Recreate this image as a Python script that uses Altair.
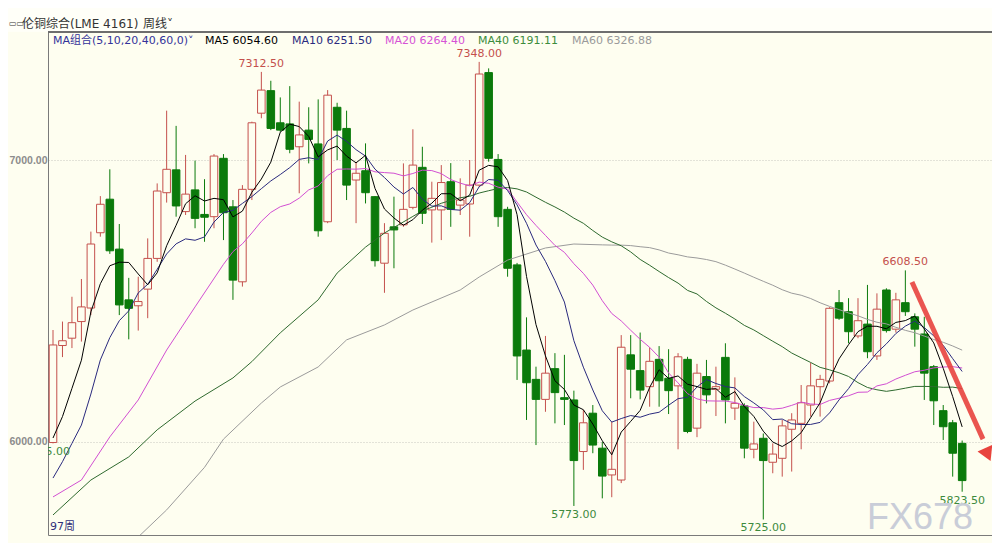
import altair as alt
import pandas as pd

# ---- weekly candles (LME copper) ----
opens = [5998, 6342, 6368, 6427, 6475, 6742, 6861, 6684, 6504, 6483,
         6542, 6651, 6884, 6965, 6817, 6894, 6807, 6799, 7006, 6834,
         6568, 6896, 7166, 7246, 7132, 7128, 7047, 7106, 7057, 6781,
         7187, 7112, 6929, 6962, 6870, 6634, 6763, 6770, 6832, 6974,
         6823, 6823, 6923, 6840, 6844, 6911, 7310, 7002, 6825, 6628,
         6326, 6222, 6151, 6260, 6157, 6149, 5966, 6102, 5978, 5883,
         5865, 6309, 6253, 6196, 6293, 6226, 6199, 6293, 6049, 6232,
         6187, 6300, 6120, 6128, 5974, 6013, 5928, 5942, 6045, 6066,
         6131, 6196, 6216, 6494, 6462, 6376, 6418, 6305, 6539, 6400,
         6494, 6444, 6383, 6267, 6111, 6068, 5995]
highs = [6397, 6427, 6515, 6578, 6746, 6872, 6967, 6773, 6582, 6586,
         6722, 6917, 7175, 7121, 7018, 6998, 6932, 7021, 7021, 6858,
         6911, 7136, 7312.5, 7281, 7222, 7262, 7207, 7187, 7215, 7248,
         7203, 7175, 6994, 7059, 6872, 6776, 6870, 6988, 7109, 7047,
         6923, 6982, 6989, 6935, 7000, 7348, 7325, 7021, 6834, 6635,
         6442, 6267, 6376, 6315, 6309, 6182, 6114, 6131, 6000, 6072,
         6379, 6379, 6388, 6336, 6340, 6329, 6315, 6302, 6277, 6291,
         6267, 6350, 6229, 6137, 6072, 6030, 5995, 6078, 6102, 6202,
         6281, 6238, 6478, 6539, 6510, 6510, 6557, 6527, 6545, 6529,
         6608.5, 6456, 6444, 6273, 6131, 6078, 6005]
lows = [5995, 6301, 6333, 6356, 6450, 6728, 6667, 6450, 6364, 6395,
        6439, 6639, 6849, 6799, 6805, 6758, 6710, 6758, 6716, 6504,
        6551, 6858, 7148, 7106, 7100, 7024, 6882, 6988, 6728, 6776,
        7000, 6858, 6776, 6846, 6622, 6529, 6616, 6763, 6825, 6773,
        6707, 6716, 6763, 6805, 6728, 6905, 6994, 6763, 6586, 6220,
        6078, 5989, 6107, 6066, 6060, 5773, 5901, 5960, 5800, 5804,
        5854, 6155, 6151, 6125, 6125, 6099, 5974, 6031, 6017, 6137,
        6092, 6066, 6078, 5942, 5942, 5725, 5889, 5877, 5895, 5974,
        6090, 6090, 6208, 6433, 6350, 6368, 6297, 6291, 6388, 6388,
        6447, 6338, 6149, 6060, 6007, 5877, 5823.5]
closes = [6344, 6359, 6423, 6479, 6702, 6843, 6678, 6486, 6474, 6498,
          6651, 6890, 6967, 6837, 6879, 6793, 6797, 7014, 6813, 6574,
          6896, 7132, 7248, 7112, 7106, 7038, 7089, 7073, 6749, 7230,
          7106, 6911, 6953, 6884, 6643, 6740, 6752, 6825, 6982, 6811,
          6864, 6920, 6825, 6858, 6911, 7305, 7006, 6799, 6616, 6305,
          6210, 6151, 6244, 6175, 6151, 5934, 6068, 5989, 5879, 5903,
          6336, 6258, 6184, 6286, 6217, 6182, 6302, 6037, 6244, 6167,
          6196, 6149, 6137, 5978, 5993, 5934, 5957, 6057, 6078, 6139,
          6199, 6222, 6474, 6439, 6391, 6430, 6320, 6471, 6395, 6504,
          6462, 6400, 6244, 6146, 6054, 5960, 5863]

# moving-average values at the left edge (their windows start before the first visible week)
ma5_early_i = [1, 2, 3, 4]
ma5_early_v = [6014, 6090, 6190, 6290]
ma10_early_i = [1, 2, 3, 4, 5, 6, 7, 8, 9]
ma10_early_v = [5872, 5930, 5995, 6060, 6170, 6291, 6370, 6430, 6465]
ma20_early_i = [1, 4, 7, 10, 13, 16, 19]
ma20_early_v = [5805, 5865, 6018, 6149, 6326, 6479, 6630]
ma40_early_i = [1, 5, 9, 12, 16, 20, 22, 25, 29, 31, 34, 36, 39]
ma40_early_v = [5741, 5865, 5947, 6043, 6145, 6227, 6285, 6387, 6504, 6599, 6691, 6741, 6800]
ma60_early_i = [1, 5, 10, 13, 17, 19, 23, 25, 29, 32, 36, 39, 44, 46, 49, 53, 56, 59]
ma60_early_v = [5340, 5520, 5663, 5759, 5910, 6010, 6138, 6195, 6266, 6362, 6415, 6468,
                6539, 6585, 6645, 6688, 6702, 6699]

ma_names = ["MA60", "MA40", "MA20", "MA10", "MA5"]
ma_colors = ["#9b9b9b", "#2f6a2f", "#d24fd2", "#2a2a7e", "#000000"]

hilo_text = ["7312.50", "7348.00", "6608.50"]
hilo_i = [23, 46, 91]
hilo_v = [7312.5, 7348.0, 6608.5]
low_text = ["5773.00", "5725.00", "5823.50"]
low_i = [56, 76, 97]
low_v = [5773.0, 5725.0, 5823.5]

legend_text = ["MA组合(5,10,20,40,60,0)\u02c5", "MA5 6054.60", "MA10 6251.50",
               "MA20 6264.40", "MA40 6191.11", "MA60 6326.88"]
legend_x = [5, 157, 244, 337, 430, 524]
legend_col = ["#33339a", "#000000", "#2a2a7e", "#d653d6", "#3c8c3c", "#9a9a9a"]

# ---- tables ----
n = len(closes)
df = pd.DataFrame({"i": list(range(1, n + 1)), "open": opens, "high": highs,
                   "low": lows, "close": closes})
df["dir"] = ["up" if c >= o else "down" for o, c in zip(opens, closes)]
df["top"] = df[["open", "close"]].max(axis=1)
df["bot"] = df[["open", "close"]].min(axis=1)
df["x1"] = df["i"] - 0.4
df["x2"] = df["i"] + 0.4

rows = []
early = {"MA5": (ma5_early_i, ma5_early_v), "MA10": (ma10_early_i, ma10_early_v),
         "MA20": (ma20_early_i, ma20_early_v), "MA40": (ma40_early_i, ma40_early_v),
         "MA60": (ma60_early_i, ma60_early_v)}
wins = {"MA5": 5, "MA10": 10, "MA20": 20, "MA40": 40, "MA60": 60}
cs = pd.Series(closes, dtype=float)
for name in ma_names:
    ei, ev = early[name]
    for a, b in zip(ei, ev):
        rows.append({"ma": name, "i": a, "v": b})
    roll = cs.rolling(wins[name]).mean()
    for k in range(wins[name] - 1, n):
        rows.append({"ma": name, "i": k + 1, "v": float(roll[k])})
ma_df = pd.DataFrame(rows)

hi_df = pd.DataFrame({"i": hilo_i, "v": hilo_v, "t": hilo_text})
lo_df = pd.DataFrame({"i": low_i, "v": low_v, "t": low_text})
leg_df = pd.DataFrame({"t": legend_text, "x": legend_x, "c": legend_col})

W, H = 944, 503
RED = "#c4504c"
GREEN = "#0b7a0b"
BG = "#fefef0"
FONT = "DejaVu Sans, Noto Sans CJK SC"

xs = alt.Scale(domain=[0.472, 100.15], nice=False, zero=False)
ys = alt.Scale(domain=[5670, 7454], nice=False, zero=False)
XAX = alt.Axis(labels=False, ticks=False, grid=False, domain=True, domainColor="#7a7a7a", title=None)
YAX = alt.Axis(values=[6000, 7000], format=".2f", title=None, labelColor="#8c8c8c", labelFontSize=10.5,
               labelFont="Liberation Sans", labelFontWeight="bold", ticks=False, labelPadding=1,
               grid=True, gridColor="#c9c9c0", gridDash=[1, 2], domainColor="#7a7a7a")


def X(f):
    return alt.X(f, scale=xs, axis=XAX)


def Y(f):
    return alt.Y(f, scale=ys, axis=YAX)


base = alt.Chart(df)

wicks = base.mark_rule(strokeWidth=1).encode(
    x=X("i:Q"), y=Y("low:Q"), y2="high:Q",
    color=alt.Color("dir:N", scale=alt.Scale(domain=["up", "down"], range=[RED, GREEN]), legend=None),
)

bodies = base.mark_rect(strokeWidth=1).encode(
    x=X("x1:Q"), x2="x2:Q", y=Y("bot:Q"), y2="top:Q",
    fill=alt.Fill("dir:N", scale=alt.Scale(domain=["up", "down"], range=[BG, GREEN]), legend=None),
    stroke=alt.Stroke("dir:N", scale=alt.Scale(domain=["up", "down"], range=[RED, GREEN]), legend=None),
)

lines = alt.Chart(ma_df).mark_line(strokeWidth=1, clip=True).encode(
    x=X("i:Q"), y=Y("v:Q"),
    stroke=alt.Stroke("ma:N", scale=alt.Scale(domain=ma_names, range=ma_colors), legend=None),
    detail="ma:N",
    order="i:Q",
)

hi_txt = alt.Chart(hi_df).mark_text(baseline="bottom", dy=-3, fontSize=11, font=FONT, color=RED).encode(
    x=X("i:Q"), y=Y("v:Q"), text="t:N")
lo_txt = alt.Chart(lo_df).mark_text(baseline="top", dy=3, fontSize=11, font=FONT, color="#3d8a3d").encode(
    x=X("i:Q"), y=Y("v:Q"), text="t:N")
first_low = alt.Chart(pd.DataFrame({"i": [1], "v": [lows[0]], "t": ["5995.00"]})).mark_text(
    baseline="top", dy=3, align="right", dx=17, fontSize=11, font=FONT, color="#3d8a3d", clip=True
).encode(x=X("i:Q"), y=Y("v:Q"), text="t:N")

# red arrow
arrow_df = pd.DataFrame({"i": [91.7, 99.2], "v": [6567, 6010]})
arrow = alt.Chart(arrow_df).mark_line(strokeWidth=5, color="#e8433e", opacity=0.9).encode(
    x=X("i:Q"), y=Y("v:Q"))
head = alt.Chart(pd.DataFrame({"i": [99.7], "v": [5955]})).mark_point(
    shape="triangle-down", size=260, filled=True, color="#e8433e", angle=336, opacity=1
).encode(x=X("i:Q"), y=Y("v:Q"))

# frame / header
top_rule = alt.Chart(df).mark_rule(color="#6e6e6e", strokeWidth=1).encode(
    x=alt.value(0), x2=alt.value(W), y=alt.value(0))
header_bg = alt.Chart(df).mark_rect(color="#fffff8").encode(
    x=alt.value(-48), x2=alt.value(W), y=alt.value(-32), y2=alt.value(-0.5))

title_txt = alt.Chart(pd.DataFrame({"t": ["伦铜综合(LME 4161)"]})).mark_text(
    align="left", baseline="middle", fontSize=12, font=FONT, color="#333333"
).encode(x=alt.value(-26), y=alt.value(-8), text="t:N")
title_icon = alt.Chart(pd.DataFrame({"t": ["\u25ad\u25ad"]})).mark_text(
    align="left", baseline="middle", fontSize=8, font="DejaVu Sans", color="#333333"
).encode(x=alt.value(-39), y=alt.value(-8), text="t:N")
period_txt = alt.Chart(pd.DataFrame({"t": ["周线\u02c5"]})).mark_text(
    align="left", baseline="middle", fontSize=12, font=FONT, color="#333333"
).encode(x=alt.value(95), y=alt.value(-8), text="t:N")

legend = alt.Chart(leg_df).mark_text(align="left", baseline="middle", fontSize=11, font=FONT).encode(
    x=alt.X("x:Q", scale=None), y=alt.value(9), text="t:N",
    color=alt.Color("c:N", scale=None))

weeks_txt = alt.Chart(pd.DataFrame({"t": ["97周"]})).mark_text(
    align="left", baseline="middle", fontSize=11, font=FONT, color="#2f2f7a"
).encode(x=alt.value(2), y=alt.value(495), text="t:N")

watermark = alt.Chart(pd.DataFrame({"t": ["FX678"]})).mark_text(
    align="center", baseline="middle", fontSize=36, font="Liberation Sans", color="#c9cdd8"
).encode(x=alt.value(872), y=alt.value(486), text="t:N")

chart = alt.layer(
    header_bg, wicks, bodies, lines, arrow, head, hi_txt, lo_txt, first_low,
    top_rule, title_icon, title_txt, period_txt, legend, weeks_txt, watermark
).resolve_scale(
    color="independent", fill="independent", stroke="independent"
).properties(
    width=W, height=H, background=BG,
    padding={"left": 40, "top": 24, "right": 0, "bottom": 8},
    autosize=alt.AutoSizeParams(type="none"),
).configure_view(stroke=None)

chart.save("out.html", embed_options={"renderer": "svg", "actions": False})
